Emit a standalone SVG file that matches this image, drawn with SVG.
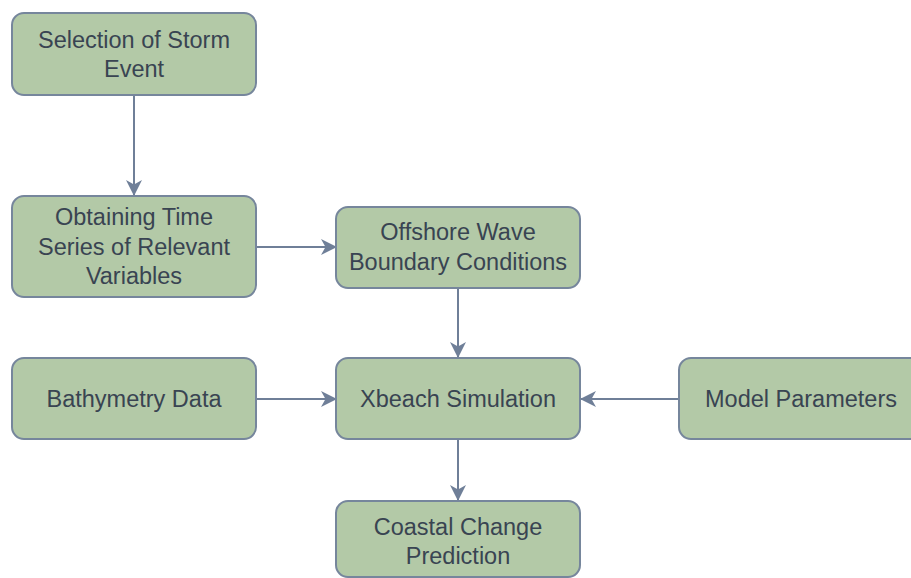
<svg xmlns="http://www.w3.org/2000/svg" width="911" height="578" viewBox="0 0 911 578">
<style>
.box{fill:#b3c9a7;stroke:#76869c;stroke-width:2}
.t{font-family:"Liberation Sans",Arial,sans-serif;font-size:23.5px;fill:#394452;text-anchor:middle}
.c{stroke:#6f7f98;stroke-width:2;fill:none}
</style>
<defs>
<marker id="ah" viewBox="0 0 16 16" refX="15" refY="8" markerWidth="16" markerHeight="16" markerUnits="userSpaceOnUse" orient="auto">
<path d="M0,0 L16,8 L0,16 L4.5,8 Z" fill="#6f7f98"/>
</marker>
</defs>
<rect width="911" height="578" fill="#ffffff"/>
<g id="connectors">
<line class="c" x1="134" y1="95" x2="134" y2="195" marker-end="url(#ah)"/>
<line class="c" x1="256" y1="247" x2="336" y2="247" marker-end="url(#ah)"/>
<line class="c" x1="458" y1="288" x2="458" y2="357" marker-end="url(#ah)"/>
<line class="c" x1="256" y1="399" x2="336" y2="399" marker-end="url(#ah)"/>
<line class="c" x1="679" y1="399" x2="581" y2="399" marker-end="url(#ah)"/>
<line class="c" x1="458" y1="440" x2="458" y2="500" marker-end="url(#ah)"/>
</g>
<g id="n1">
<rect class="box" x="12" y="13" width="244" height="82" rx="12"/>
<text class="t" x="134" y="48">Selection of Storm</text>
<text class="t" x="134" y="77">Event</text>
</g>
<g id="n2">
<rect class="box" x="12" y="196" width="244" height="101" rx="12"/>
<text class="t" x="134" y="225">Obtaining Time</text>
<text class="t" x="134" y="255">Series of Relevant</text>
<text class="t" x="134" y="284">Variables</text>
</g>
<g id="n3">
<rect class="box" x="336" y="207" width="244" height="81" rx="12"/>
<text class="t" x="458" y="240">Offshore Wave</text>
<text class="t" x="458" y="270">Boundary Conditions</text>
</g>
<g id="n4">
<rect class="box" x="12" y="358" width="244" height="81" rx="12"/>
<text class="t" x="134" y="407">Bathymetry Data</text>
</g>
<g id="n5">
<rect class="box" x="336" y="358" width="244" height="81" rx="12"/>
<text class="t" x="458" y="407">Xbeach Simulation</text>
</g>
<g id="n6">
<rect class="box" x="679" y="358" width="244" height="81" rx="12"/>
<text class="t" x="801" y="407">Model Parameters</text>
</g>
<g id="n7">
<rect class="box" x="336" y="501" width="244" height="76" rx="12"/>
<text class="t" x="458" y="535">Coastal Change</text>
<text class="t" x="458" y="564">Prediction</text>
</g>
</svg>
